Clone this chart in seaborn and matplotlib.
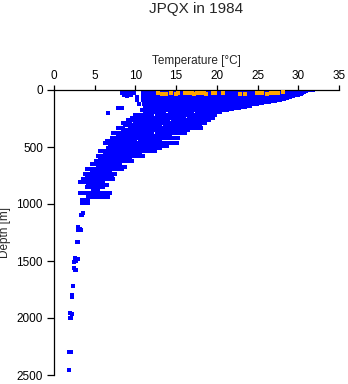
import matplotlib
matplotlib.use("Agg")
import matplotlib.pyplot as plt
import seaborn as sns

# Temperature profile streaks: depth [m], lowest and highest temperature [degC] of each run
streak_depth = [0, 8, 16, 24, 32, 40, 48, 56, 64, 72, 80, 88, 96,
                106, 106, 116, 116, 126, 126, 136, 136, 146, 146, 156, 156, 156,
                166, 166,
                176, 176, 196, 196, 196, 219, 219, 242, 242, 242, 263, 263,
                289, 289, 289, 307, 307, 330, 330, 330, 355, 355, 377, 377,
                400, 400, 422, 422, 445, 445, 465, 465, 490, 490, 512, 512,
                535, 535, 558, 580, 580, 605, 625, 625, 648, 672, 695, 695,
                718, 740, 763, 763, 785, 808, 808, 833, 855, 877, 903,
                938, 938, 965, 990,
                2, 28, 40]
streak_tmin = [10.9, 10.9, 10.9, 10.9, 10.9, 10.9, 10.9, 10.9, 10.9, 10.9, 10.9, 10.9, 11.2,
               11.0, 13.0, 11.8, 15.0, 11.0, 13.6, 12.2, 16.6, 11.2, 19.4, 11.6, 14.4, 17.0,
               11.3, 15.6,
               10.8, 15.5, 11.2, 14.2, 17.5, 9.9, 12.6, 9.6, 13.0, 16.6, 9.1, 14.6,
               8.5, 10.0, 13.5, 8.7, 13.6, 7.9, 9.3, 12.5, 8.5, 11.6, 7.3, 12.6,
               7.9, 11.0, 7.1, 12.5, 6.5, 10.6, 6.3, 9.5, 6.9, 11.5, 6.6, 10.0,
               5.7, 8.5, 6.3, 5.4, 8.0, 5.7, 5.2, 7.5, 4.7, 5.4, 4.1, 6.3,
               4.7, 3.8, 4.1, 5.8, 3.6, 3.2, 5.0, 4.2, 4.1, 4.8, 3.2,
               4.2, 6.0, 3.4, 3.4,
               30.9, 8.3, 8.6]
streak_tmax = [31.0, 30.9, 30.7, 30.5, 30.3, 30.0, 29.7, 29.4, 29.0, 28.6, 28.2, 27.7, 27.1,
               12.4, 26.4, 14.2, 25.6, 12.8, 24.9, 15.8, 24.1, 18.6, 23.4, 13.4, 16.2, 22.7,
               15.0, 21.9,
               15.0, 21.2, 13.5, 17.0, 20.4, 12.0, 19.8, 12.5, 16.0, 19.5, 14.0, 19.0,
               9.3, 13.0, 18.5, 13.0, 17.9, 8.5, 12.0, 18.0, 11.0, 16.5, 12.0, 16.1,
               10.5, 14.3, 12.0, 15.2, 10.0, 13.0, 9.0, 15.1, 11.0, 13.9, 9.5, 13.0,
               8.0, 12.4, 10.6, 7.5, 10.9, 9.3, 7.0, 9.6, 8.1, 8.7, 5.8, 8.4,
               6.9, 7.5, 5.3, 7.1, 7.3, 4.5, 6.0, 6.5, 6.0, 5.4, 6.9,
               5.7, 6.6, 4.2, 4.2,
               31.8, 9.8, 9.4]

# Single casts outside the main body of data
point_temp = [9.0, 10.2, 10.2, 10.4, 7.9, 8.3, 6.6,
              3.5, 3.4, 3.3, 2.9, 3.2, 3.0, 3.3, 2.8, 3.0,
              2.6, 2.9, 2.7, 2.5, 2.5, 2.7, 2.6, 2.3, 2.2, 2.2,
              2.0, 2.2, 2.1, 2.0, 1.9, 2.1, 1.8]
point_depth = [50, 60, 90, 120, 158, 158, 202,
               1080, 1100, 1095, 1200, 1215, 1230, 1225, 1333, 1333,
               1475, 1480, 1500, 1510, 1560, 1575, 1580, 1719, 1800, 1815,
               1960, 1965, 2000, 2003, 2298, 2298, 2456]

# Highlighted near-surface samples
warm_temp = [12.8, 13.3, 13.8, 14.4, 15.0, 15.2, 16.1, 16.5, 16.9, 17.2, 17.5,
             18.0, 18.4, 18.7, 19.5, 19.8, 20.8, 22.9, 23.4, 24.9, 25.2, 25.6,
             26.2, 26.6, 27.1, 27.5, 28.1]
warm_depth = [30, 32, 34, 28, 36, 22, 30, 26, 28, 34, 24,
              30, 26, 36, 24, 30, 30, 36, 32, 22, 30, 26,
              34, 30, 26, 24, 20]

x_ticks = [0, 5, 10, 15, 20, 25, 30, 35]
y_ticks = [0, 500, 1000, 1500, 2000, 2500]

sns.set_style("ticks")
plt.rcParams["font.family"] = ["Liberation Sans", "DejaVu Sans"]

fig = plt.figure(figsize=(3.48, 3.84), dpi=100)
ax = fig.add_axes([54 / 348, 9 / 384, 285 / 348, 285 / 384])

blue = "#0000ff"
ax.hlines(streak_depth, streak_tmin, streak_tmax, colors=blue,
          linewidth=1.55, capstyle="projecting", antialiased=False, zorder=2)
sns.scatterplot(x=point_temp, y=point_depth, ax=ax, color=blue, marker="s",
                s=6, linewidth=0, zorder=3)
sns.scatterplot(x=warm_temp, y=warm_depth, ax=ax, color="#ffa500", marker="s",
                s=6, linewidth=0, zorder=4)

ax.set_xlim(0, 35)
ax.set_ylim(2500, 0)
ax.xaxis.tick_top()
ax.xaxis.set_label_position("top")
ax.set_xticks(x_ticks)
ax.set_yticks(y_ticks)
ax.set_xticklabels([str(v) for v in x_ticks])
ax.set_yticklabels([str(v) for v in y_ticks])

for side in ("right", "bottom"):
    ax.spines[side].set_visible(False)
for side in ("top", "left"):
    ax.spines[side].set_linewidth(0.9)
    ax.spines[side].set_color("black")

ax.tick_params(axis="x", length=3.6, width=0.9, pad=2.5, labelsize=8.5,
               colors="black")
ax.tick_params(axis="y", length=5, width=0.9, pad=3, labelsize=8.5,
               colors="black")
ax.set_xlabel("Temperature [\u00b0C]", fontsize=8.5, labelpad=4)
ax.set_ylabel("Depth [m]", fontsize=8.5, labelpad=4)

fig.text(196.5 / 348, 1 - 9 / 384, "JPQX in 1984", ha="center", va="center",
         fontsize=11)

fig.savefig("out.png", dpi=100)
